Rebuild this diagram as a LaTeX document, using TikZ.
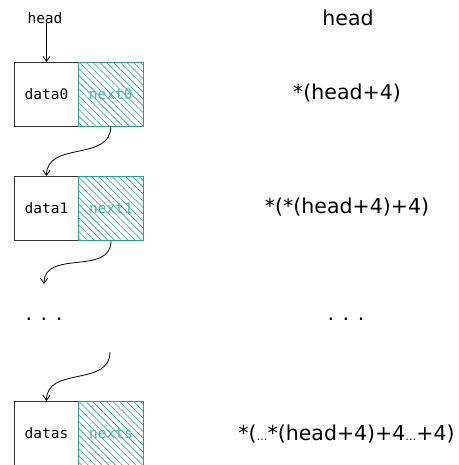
\documentclass[tikz,border=0pt]{standalone}
\usepackage{fontspec}
\setmainfont{DejaVu Sans}
\setmonofont{DejaVu Sans Mono}
\usetikzlibrary{patterns.meta,arrows.meta}
\definecolor{tealb}{HTML}{2A9D8F}
\definecolor{tealt}{HTML}{4DB6AC}
\newcommand{\smdots}{{\fontsize{11}{12}\selectfont …}}
\tikzset{
  databox/.style={draw=black!80,line width=1pt,minimum width=64pt,minimum height=64pt,inner sep=0pt,font=\ttfamily\fontsize{14.5}{16}\selectfont},
  nextbox/.style={draw=tealb,line width=1pt,minimum width=65pt,minimum height=64pt,inner sep=0pt,
    pattern={Lines[angle=-45,distance=4.8pt,line width=0.6pt]},pattern color=tealb,
    text=tealt,font=\ttfamily\fontsize{14.5}{16}\selectfont},
  lbl/.style={font=\fontsize{20.5}{24}\selectfont,inner sep=0pt},
  link/.style={-{Straight Barb[length=5pt,width=7pt]},line width=0.8pt},
}
\begin{document}
\begin{tikzpicture}[x=1pt,y=-1pt]
\clip (0,0) rectangle (458,465);
\node[font=\ttfamily\fontsize{14.5}{16}\selectfont,inner sep=0pt] (hl) at (45,18) {head};
\node[databox,anchor=north west] (d0) at (14,62) {data0};
\node[nextbox,anchor=north west] (n0) at (78,62) {next0};
\node[databox,anchor=north west] (d1) at (14,176) {data1};
\node[nextbox,anchor=north west] (n1) at (78,176) {next1};
\node[lbl] (dl) at (44,319) {. . .};
\coordinate (c1) at (44,284);
\coordinate (c2) at (110,352);
\node[databox,anchor=north west] (ds) at (14,401) {datas};
\node[nextbox,anchor=north west] (ns) at (78,401) {nexts};
\draw[link] (hl.south -| d0.north) ++(0,-1) -- (d0.north);
\draw[link] (n0.south) .. controls +(0,35) and +(0,-35) .. (d1.north);
\draw[link] (n1.south) .. controls +(0,35) and +(0,-35) .. (c1);
\draw[link] (c2) .. controls +(0,35) and +(0,-35) .. (ds.north);
\node[lbl] (r0) at (348,18) {head};
\node[lbl] (r1) at (347,93) {*(head+4)};
\node[lbl] (r2) at (347,207) {*(*(head+4)+4)};
\node[lbl] (r3) at (346,319) {. . .};
\node[lbl] (r4) at (346.5,434) {*(\smdots*(head+4)+4\smdots+4)};
\end{tikzpicture}
\end{document}
